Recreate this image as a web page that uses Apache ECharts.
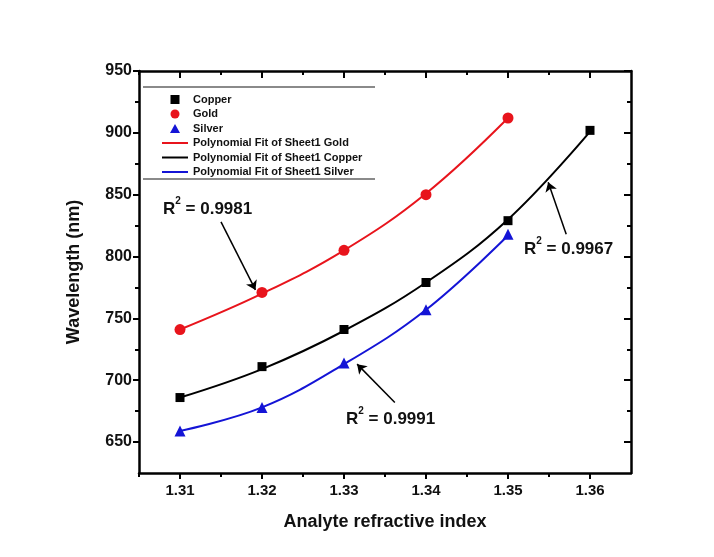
<!DOCTYPE html>
<html>
<head>
<meta charset="utf-8">
<script src="https://cdn.jsdelivr.net/npm/echarts@6/dist/echarts.min.js"></script>
<style>
  html, body { margin: 0; padding: 0; background: #ffffff; }
  #chart { width: 714px; height: 557px; }
</style>
</head>
<body>
<div id="chart"></div>
<script>
// data
const riCopper = [1.31, 1.32, 1.33, 1.34, 1.35, 1.36];
const riGold = [1.31, 1.32, 1.33, 1.34, 1.35];
const riSilver = [1.31, 1.32, 1.33, 1.34, 1.35];

const copper = [686, 711, 741, 779, 829, 902];
const gold = [741, 771, 805, 850, 912];
const silver = [659, 678, 714, 757, 818];

// fit curves read at the same x positions
const copperFit = [686, 709, 740, 779, 830, 901];
const goldFit = [741, 770, 805, 851, 912];
const silverFit = [659, 678, 713, 757, 817];

const xMajor = [1.31, 1.32, 1.33, 1.34, 1.35, 1.36];
const xMinor = [1.305, 1.315, 1.325, 1.335, 1.345, 1.355];
const yMajor = [650, 700, 750, 800, 850, 900, 950];
const yMinor = [675, 725, 775, 825, 875, 925];

// R² annotations: label text and arrow (tail -> head) in data units
const r2Labels = ["0.9981", "0.9967", "0.9991"];
const arrows = [
  [[1.3150, 828], [1.3192, 773]],
  [[1.3571, 818], [1.3549, 860]],
  [[1.3362, 682], [1.3316, 713]],
];

const pairs = (xs, ys) => xs.map((x, i) => [x, ys[i]]);

const FONT = "'Liberation Sans', Arial, sans-serif";
const RED = "#e8141c";
const BLUE = "#1414d6";
const BLACK = "#000000";

const chart = echarts.init(document.getElementById("chart"));

const axisLine = { show: true, lineStyle: { color: BLACK, width: 2.5 } };
const grid = { left: 139, right: 83, top: 71, bottom: 84 };

const xBase = { type: "value", min: 1.305, max: 1.365, splitLine: { show: false } };
const yBase = { type: "value", min: 625, max: 950, splitLine: { show: false } };

// legend icons
const squareIcon = "path://M0,0H10V10H0Z";
const triangleIcon = "path://M5,0L10,9L0,9Z";
const lineIcon = "path://M0,0H26V2H0Z";

const option = {
  backgroundColor: "#ffffff",
  animation: false,
  grid: grid,
  legend: {
    orient: "vertical",
    left: 162,
    top: 94,
    padding: 0,
    itemWidth: 26,
    itemHeight: 9,
    itemGap: 3.5,
    textStyle: { fontFamily: FONT, fontWeight: "bold", fontSize: 11, color: "#111" },
    data: [
      { name: "Copper", icon: squareIcon },
      { name: "Gold", icon: "circle" },
      { name: "Silver", icon: triangleIcon },
      { name: "Polynomial Fit of Sheet1 Gold", icon: lineIcon },
      { name: "Polynomial Fit of Sheet1 Copper", icon: lineIcon },
      { name: "Polynomial Fit of Sheet1 Silver", icon: lineIcon },
    ],
  },
  xAxis: [
    {
      ...xBase,
      position: "bottom",
      axisLine: axisLine,
      axisTick: { show: true, customValues: xMajor, length: 6, lineStyle: { width: 2, color: BLACK } },
      axisLabel: {
        customValues: xMajor,
        formatter: (v) => v.toFixed(2),
        fontFamily: FONT, fontWeight: "bold", fontSize: 15, color: "#111", margin: 10,
      },
      name: "Analyte refractive index",
      nameLocation: "middle",
      nameGap: 40,
      nameTextStyle: { fontFamily: FONT, fontWeight: "bold", fontSize: 18, color: "#111" },
    },
    {
      ...xBase,
      position: "bottom",
      axisLine: { show: false },
      axisTick: { show: true, customValues: xMinor, length: 4, lineStyle: { width: 2, color: BLACK } },
      axisLabel: { show: false },
    },
    {
      ...xBase,
      position: "top",
      axisLine: axisLine,
      axisTick: { show: true, inside: true, customValues: xMajor, length: 7, lineStyle: { width: 2, color: BLACK } },
      axisLabel: { show: false },
    },
    {
      ...xBase,
      position: "top",
      axisLine: { show: false },
      axisTick: { show: true, inside: true, customValues: xMinor, length: 4, lineStyle: { width: 2, color: BLACK } },
      axisLabel: { show: false },
    },
  ],
  yAxis: [
    {
      ...yBase,
      position: "left",
      axisLine: axisLine,
      axisTick: { show: true, customValues: yMajor, length: 6, lineStyle: { width: 2, color: BLACK } },
      axisLabel: {
        customValues: yMajor,
        fontFamily: FONT, fontWeight: "bold", fontSize: 16, color: "#111", margin: 7,
      },
      name: "Wavelength (nm)",
      nameLocation: "middle",
      nameGap: 56,
      nameTextStyle: { fontFamily: FONT, fontWeight: "bold", fontSize: 18, color: "#111" },
    },
    {
      ...yBase,
      position: "left",
      axisLine: { show: false },
      axisTick: { show: true, customValues: yMinor, length: 4, lineStyle: { width: 2, color: BLACK } },
      axisLabel: { show: false },
    },
    {
      ...yBase,
      position: "right",
      axisLine: axisLine,
      axisTick: { show: true, inside: true, customValues: yMajor, length: 7, lineStyle: { width: 2, color: BLACK } },
      axisLabel: { show: false },
    },
    {
      ...yBase,
      position: "right",
      axisLine: { show: false },
      axisTick: { show: true, inside: true, customValues: yMinor, length: 4, lineStyle: { width: 2, color: BLACK } },
      axisLabel: { show: false },
    },
  ],
  series: [
    {
      name: "Copper",
      type: "scatter",
      symbol: "rect",
      symbolSize: 9,
      z: 5,
      itemStyle: { color: "#000000", opacity: 1 },
      data: pairs(riCopper, copper),
      markLine: {
        silent: true,
        symbol: ["none", "arrow"],
        symbolSize: 9,
        label: { show: false },
        lineStyle: { color: BLACK, width: 1.5, type: "solid" },
        emphasis: { disabled: true },
        data: arrows.map((a) => [{ coord: a[0] }, { coord: a[1] }]),
      },
    },
    {
      name: "Gold",
      type: "scatter",
      symbol: "circle",
      symbolSize: 11,
      z: 5,
      itemStyle: { color: RED, opacity: 1 },
      data: pairs(riGold, gold),
    },
    {
      name: "Silver",
      type: "scatter",
      symbol: "triangle",
      symbolSize: 11,
      z: 5,
      itemStyle: { color: BLUE, opacity: 1 },
      data: pairs(riSilver, silver),
    },
    {
      name: "Polynomial Fit of Sheet1 Gold",
      type: "line",
      smooth: 0.4,
      symbol: "none",
      lineStyle: { color: RED, width: 2 },
      itemStyle: { color: RED },
      data: pairs(riGold, goldFit),
    },
    {
      name: "Polynomial Fit of Sheet1 Copper",
      type: "line",
      smooth: 0.4,
      symbol: "none",
      lineStyle: { color: BLACK, width: 2 },
      itemStyle: { color: BLACK },
      data: pairs(riCopper, copperFit),
    },
    {
      name: "Polynomial Fit of Sheet1 Silver",
      type: "line",
      smooth: 0.4,
      symbol: "none",
      lineStyle: { color: BLUE, width: 2 },
      itemStyle: { color: BLUE },
      data: pairs(riSilver, silverFit),
    },
  ],
};

chart.setOption(option);

// legend frame lines and R² labels
const r2Pos = [[163, 196], [524, 236], [346, 406]];
const r2Rich = {
  r: { fontFamily: FONT, fontWeight: "bold", fontSize: 17, lineHeight: 22, fill: "#111", verticalAlign: "bottom" },
  s: { fontFamily: FONT, fontWeight: "bold", fontSize: 10, lineHeight: 22, fill: "#111", verticalAlign: "top" },
};
chart.setOption({
  graphic: [
    { type: "line", shape: { x1: 143, y1: 87, x2: 375, y2: 87 }, style: { stroke: "#8a8a8a", lineWidth: 2 } },
    { type: "line", shape: { x1: 143, y1: 179, x2: 375, y2: 179 }, style: { stroke: "#8a8a8a", lineWidth: 2 } },
    ...r2Labels.map((t, i) => ({
      type: "text",
      left: r2Pos[i][0],
      top: r2Pos[i][1],
      style: { text: "{r|R}{s|2}{r| = " + t + "}", rich: r2Rich },
    })),
  ],
});

window.addEventListener("resize", () => chart.resize());
</script>
</body>
</html>
